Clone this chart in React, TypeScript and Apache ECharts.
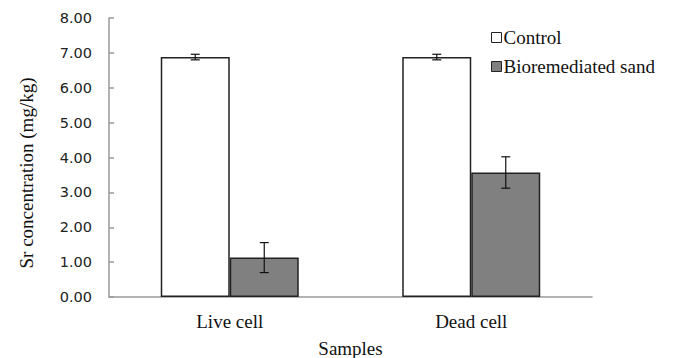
import React, { useEffect, useRef } from "react";
import * as echarts from "echarts";

const categories = ["Live cell", "Dead cell"];
const controlValues = [6.88, 6.88];
const controlErrors = [0.08, 0.08];
const bioValues = [1.13, 3.57];
const bioErrors = [0.43, 0.45];
const yTicks = [0, 1, 2, 3, 4, 5, 6, 7, 8];

const BAR_W = 69;
const SERIF = "'Liberation Serif', 'Times New Roman', serif";

export default function App() {
  const ref = useRef<HTMLDivElement>(null);
  useEffect(() => {
    if (!ref.current) return;
    const chart = echarts.init(ref.current, null, { renderer: "svg" });
    const errItem = (offset: number) => (params: any, api: any) => {
      const idx = api.value(0);
      const v = api.value(1);
      const e = api.value(2);
      const top = api.coord([idx, v + e]);
      const bot = api.coord([idx, v - e]);
      const x = top[0] + offset;
      const cap = 4.5;
      const style = { stroke: "#111", lineWidth: 1.2 };
      return {
        type: "group",
        children: [
          { type: "line", shape: { x1: x, y1: top[1], x2: x, y2: bot[1] }, style },
          { type: "line", shape: { x1: x - cap, y1: top[1], x2: x + cap, y2: top[1] }, style },
          { type: "line", shape: { x1: x - cap, y1: bot[1], x2: x + cap, y2: bot[1] }, style },
        ],
      };
    };
    chart.setOption({
      animation: false,
      backgroundColor: "#ffffff",
      grid: { left: 109, right: 83, top: 18, bottom: 61, outerBoundsMode: "none", containLabel: false },
      legend: {
        orient: "vertical",
        left: 486,
        top: 23,
        itemWidth: 10,
        itemHeight: 10,
        itemGap: 10,
        icon: "rect",
        textStyle: { fontFamily: SERIF, fontSize: 19, color: "#111", padding: [0, 0, 0, -3] },
        data: [
          { name: "Control", itemStyle: { color: "#fff", borderColor: "#222", borderWidth: 1 } },
          { name: "Bioremediated sand", itemStyle: { color: "#808080", borderColor: "#222", borderWidth: 1 } },
        ],
      },
      graphic: [
        {
          type: "text",
          x: 26,
          y: 173,
          rotation: Math.PI / 2,
          style: {
            text: "Sr concentration (mg/kg)",
            fontFamily: SERIF,
            fontSize: 19,
            fill: "#111",
            textAlign: "center",
            textVerticalAlign: "middle",
          },
        },
      ],
      xAxis: {
        type: "category",
        data: categories,
        name: "Samples",
        nameLocation: "middle",
        nameGap: 42,
        nameTextStyle: { fontFamily: SERIF, fontSize: 19, color: "#111" },
        axisLine: { lineStyle: { color: "#9a9a9a", width: 1.5 } },
        axisTick: { inside: true, length: 5, lineStyle: { color: "#9a9a9a", width: 1.5 } },
        axisLabel: { fontFamily: SERIF, fontSize: 19, color: "#111", margin: 15 },
      },
      yAxis: {
        type: "value",
        min: 0,
        max: 8,
        interval: 1,
        axisLine: { show: true, lineStyle: { color: "#9a9a9a", width: 1.5 } },
        axisTick: { show: true, inside: true, length: 5, lineStyle: { color: "#9a9a9a", width: 1.5 } },
        splitLine: { show: false },
        axisLabel: {
          fontFamily: "DejaVu Sans",
          fontSize: 14.5,
          color: "#222",
          margin: 17,
          formatter: (v: number) => (yTicks.includes(v) ? v.toFixed(2) : ""),
        },
      },
      series: [
        {
          name: "Control",
          type: "bar",
          data: controlValues,
          barWidth: BAR_W,
          barGap: "0%",
          itemStyle: { color: "#ffffff", borderColor: "#222", borderWidth: 1.5 },
        },
        {
          name: "Bioremediated sand",
          type: "bar",
          data: bioValues,
          barWidth: BAR_W,
          barGap: "0%",
          itemStyle: { color: "#808080", borderColor: "#222", borderWidth: 1.5 },
        },
        {
          type: "custom",
          renderItem: errItem(-BAR_W / 2),
          data: controlValues.map((v, i) => [i, v, controlErrors[i]]),
          z: 10,
          silent: true,
        },
        {
          type: "custom",
          renderItem: errItem(BAR_W / 2),
          data: bioValues.map((v, i) => [i, v, bioErrors[i]]),
          z: 10,
          silent: true,
        },
      ],
    });
    return () => chart.dispose();
  }, []);
  return (
    <div
      ref={ref}
      style={{ position: "fixed", left: 0, top: 0, width: 675, height: 358, background: "#fff" }}
    />
  );
}
